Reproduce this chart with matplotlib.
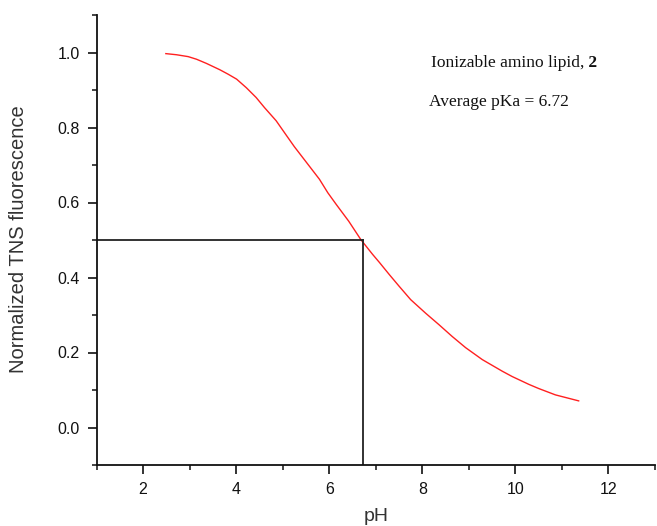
import matplotlib
matplotlib.use("Agg")
import matplotlib.pyplot as plt
from matplotlib.ticker import MultipleLocator

# Data
ph = [2.49, 2.72, 2.97, 3.15, 3.36, 3.65, 3.83, 4.01, 4.22, 4.43, 4.61, 4.86, 5.08,
      5.25, 5.43, 5.61, 5.79, 5.97, 6.15, 6.42, 6.68, 6.93, 7.08, 7.29, 7.50, 7.75,
      8.07, 8.36, 8.64, 8.93, 9.29, 9.72, 9.93, 10.29, 10.50, 10.86, 11.36]
fluor = [0.997, 0.994, 0.989, 0.982, 0.971, 0.954, 0.942, 0.929, 0.906, 0.880, 0.853,
         0.818, 0.779, 0.749, 0.720, 0.691, 0.662, 0.626, 0.595, 0.550, 0.501, 0.462,
         0.440, 0.408, 0.377, 0.341, 0.305, 0.274, 0.243, 0.213, 0.181, 0.150, 0.136,
         0.115, 0.104, 0.087, 0.071]
pka = 6.72
half = 0.5
x_ticks = [2, 4, 6, 8, 10, 12]
y_ticks = [0.0, 0.2, 0.4, 0.6, 0.8, 1.0]

plt.rcParams['font.family'] = ['Liberation Sans', 'DejaVu Sans']

fig = plt.figure(figsize=(6.57, 5.26), dpi=100)
ax = fig.add_axes([96.5/657, 61/526, (655-96.5)/657, (465-15)/526])

ax.plot(ph, fluor, color='#ff2020', lw=1.0)
ax.plot([1, pka], [half, half], color='#222222', lw=1.3)
ax.plot([pka, pka], [-0.1, half], color='#222222', lw=1.3)

ax.set_xlim(1, 13)
ax.set_ylim(-0.1, 1.1)
ax.set_xticks(x_ticks)
ax.set_yticks(y_ticks)
ax.set_yticklabels([f"{v:.1f}" for v in y_ticks])
ax.xaxis.set_minor_locator(MultipleLocator(1))
ax.yaxis.set_minor_locator(MultipleLocator(0.1))

for s in ['top', 'right']:
    ax.spines[s].set_visible(False)
for s in ['left', 'bottom']:
    ax.spines[s].set_linewidth(1.3)
    ax.spines[s].set_color('#111111')

ax.tick_params(axis='both', which='major', direction='out', length=6.5, width=1.2,
               labelsize=11.5, colors='#111111', pad=5.5)
ax.tick_params(axis='both', which='minor', direction='out', length=3.8, width=1.1,
               colors='#111111')

ax.set_xlabel('pH', fontsize=14, color='#333333')
ax.set_ylabel('Normalized TNS fluorescence', fontsize=14.5, color='#333333')
ax.xaxis.set_label_coords(0.5004, -0.0956)
ax.yaxis.set_label_coords(-0.1225, 0.503)

t1 = fig.text(431/657, 1 - 63/526, 'Ionizable amino lipid,', family='Liberation Serif',
              fontsize=12.5, va='center', ha='left', color='#111111')
fig.canvas.draw()
ax.annotate(' 2', xy=(1, 0), xycoords=t1, va='bottom', ha='left',
            family='Liberation Serif', fontsize=12.5, fontweight='bold', color='#111111')
fig.text(429/657, 1 - 101.5/526, 'Average pKa = 6.72', family='Liberation Serif',
         fontsize=12.5, va='center', ha='left', color='#111111')

fig.savefig('out.png', dpi=100)
